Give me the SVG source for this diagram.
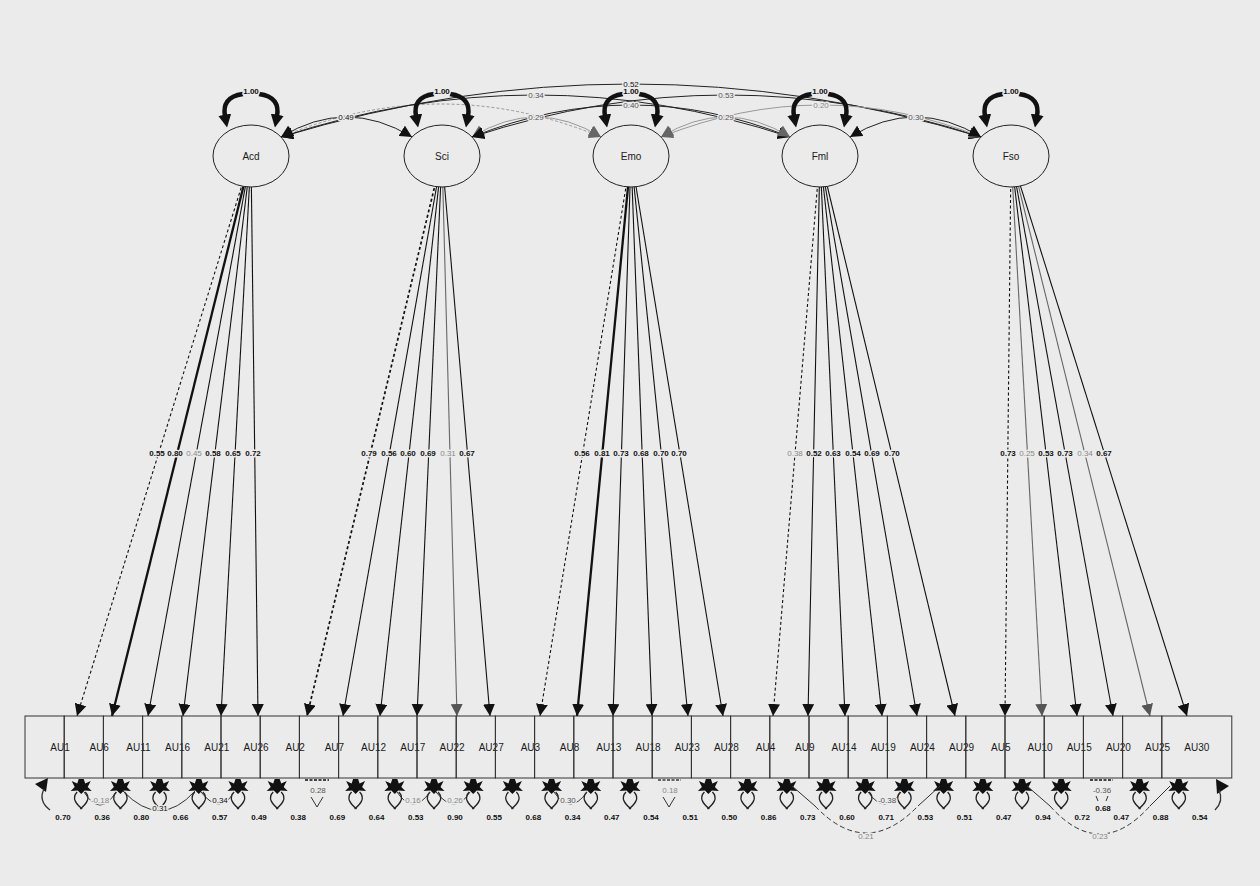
<svg xmlns="http://www.w3.org/2000/svg" width="1260" height="886" viewBox="0 0 1260 886">
<style>
.t{font-family:"Liberation Sans",Arial,sans-serif}
.lbl{font-size:10px;text-anchor:middle;fill:#1a1a1a}
.val{font-family:"Liberation Sans",Arial,sans-serif;font-size:8px;text-anchor:middle;fill:#111;paint-order:stroke;stroke:#ebebeb;stroke-width:3px;stroke-linejoin:round}
.b{font-weight:bold}
.gr{fill:#888}
.gm{fill:#555}
.ld{stroke:#111;stroke-width:1.1;fill:none}
.thk{stroke-width:2.3}
.dsh{stroke-dasharray:3 2.5}
.lg{stroke:#666}
.cv{stroke:#222;stroke-width:1;fill:none}
.cvg{stroke:#999;stroke-width:1;fill:none}
.vl{stroke:#111;stroke-width:4.5;fill:none}
.ec{stroke:#333;stroke-width:1;fill:none}
.lat{fill:#ebebeb;stroke:#222;stroke-width:1}
.box{fill:none;stroke:#333;stroke-width:1}
</style>
<defs>
<marker id="ah" viewBox="0 0 10 10" refX="10" refY="5" markerWidth="12" markerHeight="12" markerUnits="userSpaceOnUse" orient="auto"><path d="M0,0 L10,5 L0,10 z" fill="#111"/></marker>
<marker id="ahg" viewBox="0 0 10 10" refX="10" refY="5" markerWidth="12" markerHeight="12" markerUnits="userSpaceOnUse" orient="auto"><path d="M0,0 L10,5 L0,10 z" fill="#555"/></marker>
<marker id="ac" viewBox="0 0 10 10" refX="10" refY="5" markerWidth="12" markerHeight="12" markerUnits="userSpaceOnUse" orient="auto-start-reverse"><path d="M0,0 L10,5 L0,10 z" fill="#111"/></marker>
<marker id="acg" viewBox="0 0 10 10" refX="10" refY="5" markerWidth="12" markerHeight="12" markerUnits="userSpaceOnUse" orient="auto-start-reverse"><path d="M0,0 L10,5 L0,10 z" fill="#666"/></marker>
<marker id="av" viewBox="0 0 10 10" refX="1" refY="5" markerWidth="13" markerHeight="13" markerUnits="userSpaceOnUse" orient="auto"><path d="M0,0 L10,5 L0,10 z" fill="#111"/></marker>
<g id="st"><path d="M-2.5,0 L2.5,0 L4,4.5 L9.5,2 L6.5,8 L10.5,12 L3.5,11.5 L0,15 L-3.5,11.5 L-10.5,12 L-6.5,8 L-9.5,2 L-4,4.5 Z" fill="#111"/><path d="M-4,13 C-10,19 -5,25 1,30 M4,13 C10,19 5,25 -1,30" fill="none" stroke="#222" stroke-width="1.3"/></g>
<g id="vlp"><path class="vl" d="M-8,94 C-24,96 -28,105 -26,116" marker-end="url(#av)"/><path class="vl" d="M8,94 C24,96 28,105 26,116" marker-end="url(#av)"/></g>
</defs>
<rect width="1260" height="886" fill="#ebebeb"/>
<g id="connectors">
<line class="ld dsh" x1="251" y1="156" x2="77" y2="716" marker-end="url(#ah)"/>
<line class="ld thk" x1="251" y1="156" x2="112" y2="716" marker-end="url(#ah)"/>
<line class="ld" x1="251" y1="156" x2="148" y2="716" marker-end="url(#ah)"/>
<line class="ld" x1="251" y1="156" x2="183" y2="716" marker-end="url(#ah)"/>
<line class="ld" x1="251" y1="156" x2="221" y2="716" marker-end="url(#ah)"/>
<line class="ld" x1="251" y1="156" x2="258" y2="716" marker-end="url(#ah)"/>
<line class="ld dsh" style="stroke-width:1.7" x1="442" y1="156" x2="307" y2="716" marker-end="url(#ah)"/>
<line class="ld" x1="442" y1="156" x2="343" y2="716" marker-end="url(#ah)"/>
<line class="ld" x1="442" y1="156" x2="380" y2="716" marker-end="url(#ah)"/>
<line class="ld" x1="442" y1="156" x2="417" y2="716" marker-end="url(#ah)"/>
<line class="ld lg" x1="442" y1="156" x2="457" y2="716" marker-end="url(#ahg)"/>
<line class="ld" x1="442" y1="156" x2="490" y2="716" marker-end="url(#ah)"/>
<line class="ld dsh" x1="631" y1="156" x2="540" y2="716" marker-end="url(#ah)"/>
<line class="ld thk" x1="631" y1="156" x2="577" y2="716" marker-end="url(#ah)"/>
<line class="ld" x1="631" y1="156" x2="613" y2="716" marker-end="url(#ah)"/>
<line class="ld" x1="631" y1="156" x2="652" y2="716" marker-end="url(#ah)"/>
<line class="ld" x1="631" y1="156" x2="688" y2="716" marker-end="url(#ah)"/>
<line class="ld" x1="631" y1="156" x2="723" y2="716" marker-end="url(#ah)"/>
<line class="ld dsh" x1="820" y1="156" x2="773" y2="716" marker-end="url(#ah)"/>
<line class="ld" x1="820" y1="156" x2="808" y2="716" marker-end="url(#ah)"/>
<line class="ld" x1="820" y1="156" x2="845" y2="716" marker-end="url(#ah)"/>
<line class="ld" x1="820" y1="156" x2="882" y2="716" marker-end="url(#ah)"/>
<line class="ld" x1="820" y1="156" x2="917" y2="716" marker-end="url(#ah)"/>
<line class="ld" x1="820" y1="156" x2="955" y2="716" marker-end="url(#ah)"/>
<line class="ld dsh" x1="1011" y1="156" x2="1005" y2="716" marker-end="url(#ah)"/>
<line class="ld lg" x1="1011" y1="156" x2="1042" y2="716" marker-end="url(#ahg)"/>
<line class="ld" x1="1011" y1="156" x2="1077" y2="716" marker-end="url(#ah)"/>
<line class="ld" x1="1011" y1="156" x2="1113" y2="716" marker-end="url(#ah)"/>
<line class="ld lg" x1="1011" y1="156" x2="1150" y2="716" marker-end="url(#ahg)"/>
<line class="ld" x1="1011" y1="156" x2="1187" y2="716" marker-end="url(#ah)"/>
<text class="val b" x="157" y="456">0.55</text>
<text class="val b" x="175" y="456">0.80</text>
<text class="val gr" x="194" y="456">0.45</text>
<text class="val b" x="213" y="456">0.58</text>
<text class="val b" x="233" y="456">0.65</text>
<text class="val b" x="253" y="456">0.72</text>
<text class="val b" x="369" y="456">0.79</text>
<text class="val b" x="389" y="456">0.56</text>
<text class="val b" x="408" y="456">0.60</text>
<text class="val b" x="428" y="456">0.69</text>
<text class="val gr" x="448" y="456">0.31</text>
<text class="val b" x="467" y="456">0.67</text>
<text class="val b" x="582" y="456">0.56</text>
<text class="val b" x="602" y="456">0.81</text>
<text class="val b" x="621" y="456">0.73</text>
<text class="val b" x="641" y="456">0.68</text>
<text class="val b" x="661" y="456">0.70</text>
<text class="val b" x="679" y="456">0.70</text>
<text class="val gr" x="795" y="456">0.38</text>
<text class="val b" x="814" y="456">0.52</text>
<text class="val b" x="833" y="456">0.63</text>
<text class="val b" x="853" y="456">0.54</text>
<text class="val b" x="872" y="456">0.69</text>
<text class="val b" x="892" y="456">0.70</text>
<text class="val b" x="1008" y="456">0.73</text>
<text class="val gr" x="1027" y="456">0.25</text>
<text class="val b" x="1046" y="456">0.53</text>
<text class="val b" x="1065" y="456">0.73</text>
<text class="val gr" x="1085" y="456">0.34</text>
<text class="val b" x="1104" y="456">0.67</text>
<path class="cvg" style="stroke-dasharray:3 2" d="M281,137 Q441,71 601,137" marker-start="url(#acg)" marker-end="url(#acg)"/>
<path class="cv" d="M281,137 Q535.5,53 790,137" marker-start="url(#ac)" marker-end="url(#ac)"/>
<path class="cv" d="M281,137 Q631,31 981,137" marker-start="url(#ac)" marker-end="url(#ac)"/>
<path class="cv" d="M281,137 Q346.5,97 412,137" marker-start="url(#ac)" marker-end="url(#ac)"/>
<path class="cvg" d="M472,137 Q536.5,97 601,137" marker-start="url(#acg)" marker-end="url(#acg)"/>
<path class="cv" d="M472,137 Q631,73 790,137" marker-start="url(#ac)" marker-end="url(#ac)"/>
<path class="cv" d="M472,137 Q726.5,53 981,137" marker-start="url(#ac)" marker-end="url(#ac)"/>
<path class="cvg" d="M661,137 Q725.5,97 790,137" marker-start="url(#acg)" marker-end="url(#acg)"/>
<path class="cvg" d="M661,137 Q821,73 981,137" marker-start="url(#acg)" marker-end="url(#acg)"/>
<path class="cv" d="M850,137 Q915.5,97 981,137" marker-start="url(#ac)" marker-end="url(#ac)"/>
<use href="#vlp" x="251"/>
<use href="#vlp" x="442"/>
<use href="#vlp" x="631"/>
<use href="#vlp" x="820"/>
<use href="#vlp" x="1011"/>
<text class="val" x="346" y="120">0.49</text>
<text class="val gm" x="536" y="98">0.34</text>
<text class="val gm" x="536" y="120">0.29</text>
<text class="val" x="631" y="87">0.52</text>
<text class="val gm" x="631" y="108">0.40</text>
<text class="val gm" x="726" y="98">0.53</text>
<text class="val gm" x="726" y="120">0.29</text>
<text class="val gr" x="821" y="108">0.20</text>
<text class="val gm" x="916" y="120">0.30</text>
<text class="val b" x="251" y="94">1.00</text>
<text class="val b" x="442" y="94">1.00</text>
<text class="val b" x="631" y="94">1.00</text>
<text class="val b" x="820" y="94">1.00</text>
<text class="val b" x="1011" y="94">1.00</text>
<polygon points="35,784 48,778 46,792" fill="#111"/>
<path class="ec" style="stroke-width:1.3" d="M44,789 Q38,801 50,810"/>
<polygon points="1216,779 1229,786 1217,794" fill="#111"/>
<path class="ec" style="stroke-width:1.3" d="M1219,790 Q1224,801 1215,810"/>
<use href="#st" x="81.2" y="779"/>
<use href="#st" x="120.4" y="779"/>
<use href="#st" x="159.6" y="779"/>
<use href="#st" x="198.8" y="779"/>
<use href="#st" x="238" y="779"/>
<use href="#st" x="277.2" y="779"/>
<use href="#st" x="355.6" y="779"/>
<use href="#st" x="394.8" y="779"/>
<use href="#st" x="434" y="779"/>
<use href="#st" x="473.2" y="779"/>
<use href="#st" x="512.4" y="779"/>
<use href="#st" x="551.6" y="779"/>
<use href="#st" x="590.8" y="779"/>
<use href="#st" x="630" y="779"/>
<use href="#st" x="708.4" y="779"/>
<use href="#st" x="747.6" y="779"/>
<use href="#st" x="786.8" y="779"/>
<use href="#st" x="826" y="779"/>
<use href="#st" x="865.2" y="779"/>
<use href="#st" x="904.4" y="779"/>
<use href="#st" x="943.6" y="779"/>
<use href="#st" x="982.8" y="779"/>
<use href="#st" x="1022" y="779"/>
<use href="#st" x="1061.2" y="779"/>
<use href="#st" x="1139.6" y="779"/>
<use href="#st" x="1178.8" y="779"/>
<line x1="305" y1="780" x2="329" y2="780" stroke="#444" stroke-width="2.2" stroke-dasharray="3 1.5"/>
<path class="ec" d="M311,797 L317,807 L323,797"/>
<line x1="658" y1="780" x2="681" y2="780" stroke="#666" stroke-width="2.2" stroke-dasharray="3 1.5"/>
<path class="ec" d="M663,797 L669,807 L675,797"/>
<line x1="1090" y1="780" x2="1113" y2="780" stroke="#444" stroke-width="2.2" stroke-dasharray="3 1.5"/>
<path class="ec" d="M1096,796 L1098,801 M1108,796 L1106,801"/>
<path class="ec" d="M84,792 Q100,818 116,792"/>
<path class="ec" d="M123,791 Q160,830 195,791"/>
<path class="ec" d="M201,792 Q220,816 234,792"/>
<path class="ec" d="M397,792 Q413,816 430,792"/>
<path class="ec" d="M436,792 Q455,816 470,792"/>
<path class="ec" d="M554,792 Q570,816 587,792"/>
<path class="ec" d="M868,792 Q885,816 901,792"/>
<path class="ec" d="M792,786 L815,806 M918,806 L940,786"/>
<path class="ec" style="stroke-dasharray:5 3" d="M815,806 Q866,860 918,806"/>
<path class="ec" d="M1027,786 L1050,806 M1150,806 L1170,786"/>
<path class="ec" style="stroke-dasharray:5 3" d="M1050,806 Q1100,862 1150,806"/>
<text class="val gr" x="100" y="803">-0.18</text>
<text class="val" x="160" y="811">0.31</text>
<text class="val" x="220" y="803">0.34</text>
<text class="val gm" x="318" y="793">0.28</text>
<text class="val gr" x="413" y="803">0.16</text>
<text class="val gr" x="455" y="803">0.26</text>
<text class="val gm" x="568" y="803">0.30</text>
<text class="val gr" x="670" y="793">0.18</text>
<text class="val gm" x="887" y="803">-0.38</text>
<text class="val gr" x="866" y="839">0.21</text>
<text class="val gm" x="1102" y="793">-0.36</text>
<text class="val b" x="1103" y="811">0.68</text>
<text class="val gr" x="1100" y="839">0.23</text>
<g class="val b">
<text x="63" y="820">0.70</text><text x="102.2" y="820">0.36</text><text x="141.4" y="820">0.80</text><text x="180.6" y="820">0.66</text><text x="219.8" y="820">0.57</text><text x="259" y="820">0.49</text>
<text x="298.2" y="820">0.38</text><text x="337.4" y="820">0.69</text><text x="376.6" y="820">0.64</text><text x="415.8" y="820">0.53</text><text x="455" y="820">0.90</text><text x="494.2" y="820">0.55</text>
<text x="533.4" y="820">0.68</text><text x="572.6" y="820">0.34</text><text x="611.8" y="820">0.47</text><text x="651" y="820">0.54</text><text x="690.2" y="820">0.51</text><text x="729.4" y="820">0.50</text>
<text x="768.6" y="820">0.86</text><text x="807.8" y="820">0.73</text><text x="847" y="820">0.60</text><text x="886.2" y="820">0.71</text><text x="925.4" y="820">0.53</text><text x="964.6" y="820">0.51</text>
<text x="1003.8" y="820">0.47</text><text x="1043" y="820">0.94</text><text x="1082.2" y="820">0.72</text><text x="1121.4" y="820">0.47</text><text x="1160.6" y="820">0.88</text><text x="1199.8" y="820">0.54</text>
</g>
</g>
<g id="n-Acd"><ellipse class="lat" cx="251" cy="156" rx="38" ry="31"/><text class="t lbl" x="251" y="159.5">Acd</text></g>
<g id="n-Sci"><ellipse class="lat" cx="442" cy="156" rx="38" ry="31"/><text class="t lbl" x="442" y="159.5">Sci</text></g>
<g id="n-Emo"><ellipse class="lat" cx="631" cy="156" rx="38" ry="31"/><text class="t lbl" x="631" y="159.5">Emo</text></g>
<g id="n-Fml"><ellipse class="lat" cx="820" cy="156" rx="38" ry="31"/><text class="t lbl" x="820" y="159.5">Fml</text></g>
<g id="n-Fso"><ellipse class="lat" cx="1011" cy="156" rx="38" ry="31"/><text class="t lbl" x="1011" y="159.5">Fso</text></g>
<g id="n-AU1"><rect class="box" x="25" y="716" width="39.2" height="62"/><text class="t lbl" x="60" y="751">AU1</text></g>
<g id="n-AU6"><rect class="box" x="64.2" y="716" width="39.2" height="62"/><text class="t lbl" x="99.2" y="751">AU6</text></g>
<g id="n-AU11"><rect class="box" x="103.4" y="716" width="39.2" height="62"/><text class="t lbl" x="138.4" y="751">AU11</text></g>
<g id="n-AU16"><rect class="box" x="142.6" y="716" width="39.2" height="62"/><text class="t lbl" x="177.6" y="751">AU16</text></g>
<g id="n-AU21"><rect class="box" x="181.8" y="716" width="39.2" height="62"/><text class="t lbl" x="216.8" y="751">AU21</text></g>
<g id="n-AU26"><rect class="box" x="221" y="716" width="39.2" height="62"/><text class="t lbl" x="256" y="751">AU26</text></g>
<g id="n-AU2"><rect class="box" x="260.2" y="716" width="39.2" height="62"/><text class="t lbl" x="295.2" y="751">AU2</text></g>
<g id="n-AU7"><rect class="box" x="299.4" y="716" width="39.2" height="62"/><text class="t lbl" x="334.4" y="751">AU7</text></g>
<g id="n-AU12"><rect class="box" x="338.6" y="716" width="39.2" height="62"/><text class="t lbl" x="373.6" y="751">AU12</text></g>
<g id="n-AU17"><rect class="box" x="377.8" y="716" width="39.2" height="62"/><text class="t lbl" x="412.8" y="751">AU17</text></g>
<g id="n-AU22"><rect class="box" x="417" y="716" width="39.2" height="62"/><text class="t lbl" x="452" y="751">AU22</text></g>
<g id="n-AU27"><rect class="box" x="456.2" y="716" width="39.2" height="62"/><text class="t lbl" x="491.2" y="751">AU27</text></g>
<g id="n-AU3"><rect class="box" x="495.4" y="716" width="39.2" height="62"/><text class="t lbl" x="530.4" y="751">AU3</text></g>
<g id="n-AU8"><rect class="box" x="534.6" y="716" width="39.2" height="62"/><text class="t lbl" x="569.6" y="751">AU8</text></g>
<g id="n-AU13"><rect class="box" x="573.8" y="716" width="39.2" height="62"/><text class="t lbl" x="608.8" y="751">AU13</text></g>
<g id="n-AU18"><rect class="box" x="613" y="716" width="39.2" height="62"/><text class="t lbl" x="648" y="751">AU18</text></g>
<g id="n-AU23"><rect class="box" x="652.2" y="716" width="39.2" height="62"/><text class="t lbl" x="687.2" y="751">AU23</text></g>
<g id="n-AU28"><rect class="box" x="691.4" y="716" width="39.2" height="62"/><text class="t lbl" x="726.4" y="751">AU28</text></g>
<g id="n-AU4"><rect class="box" x="730.6" y="716" width="39.2" height="62"/><text class="t lbl" x="765.6" y="751">AU4</text></g>
<g id="n-AU9"><rect class="box" x="769.8" y="716" width="39.2" height="62"/><text class="t lbl" x="804.8" y="751">AU9</text></g>
<g id="n-AU14"><rect class="box" x="809" y="716" width="39.2" height="62"/><text class="t lbl" x="844" y="751">AU14</text></g>
<g id="n-AU19"><rect class="box" x="848.2" y="716" width="39.2" height="62"/><text class="t lbl" x="883.2" y="751">AU19</text></g>
<g id="n-AU24"><rect class="box" x="887.4" y="716" width="39.2" height="62"/><text class="t lbl" x="922.4" y="751">AU24</text></g>
<g id="n-AU29"><rect class="box" x="926.6" y="716" width="39.2" height="62"/><text class="t lbl" x="961.6" y="751">AU29</text></g>
<g id="n-AU5"><rect class="box" x="965.8" y="716" width="39.2" height="62"/><text class="t lbl" x="1000.8" y="751">AU5</text></g>
<g id="n-AU10"><rect class="box" x="1005" y="716" width="39.2" height="62"/><text class="t lbl" x="1040" y="751">AU10</text></g>
<g id="n-AU15"><rect class="box" x="1044.2" y="716" width="39.2" height="62"/><text class="t lbl" x="1079.2" y="751">AU15</text></g>
<g id="n-AU20"><rect class="box" x="1083.4" y="716" width="39.2" height="62"/><text class="t lbl" x="1118.4" y="751">AU20</text></g>
<g id="n-AU25"><rect class="box" x="1122.6" y="716" width="39.2" height="62"/><text class="t lbl" x="1157.6" y="751">AU25</text></g>
<g id="n-AU30"><rect class="box" x="1161.8" y="716" width="70" height="62"/><text class="t lbl" x="1196.8" y="751">AU30</text></g>
</svg>
